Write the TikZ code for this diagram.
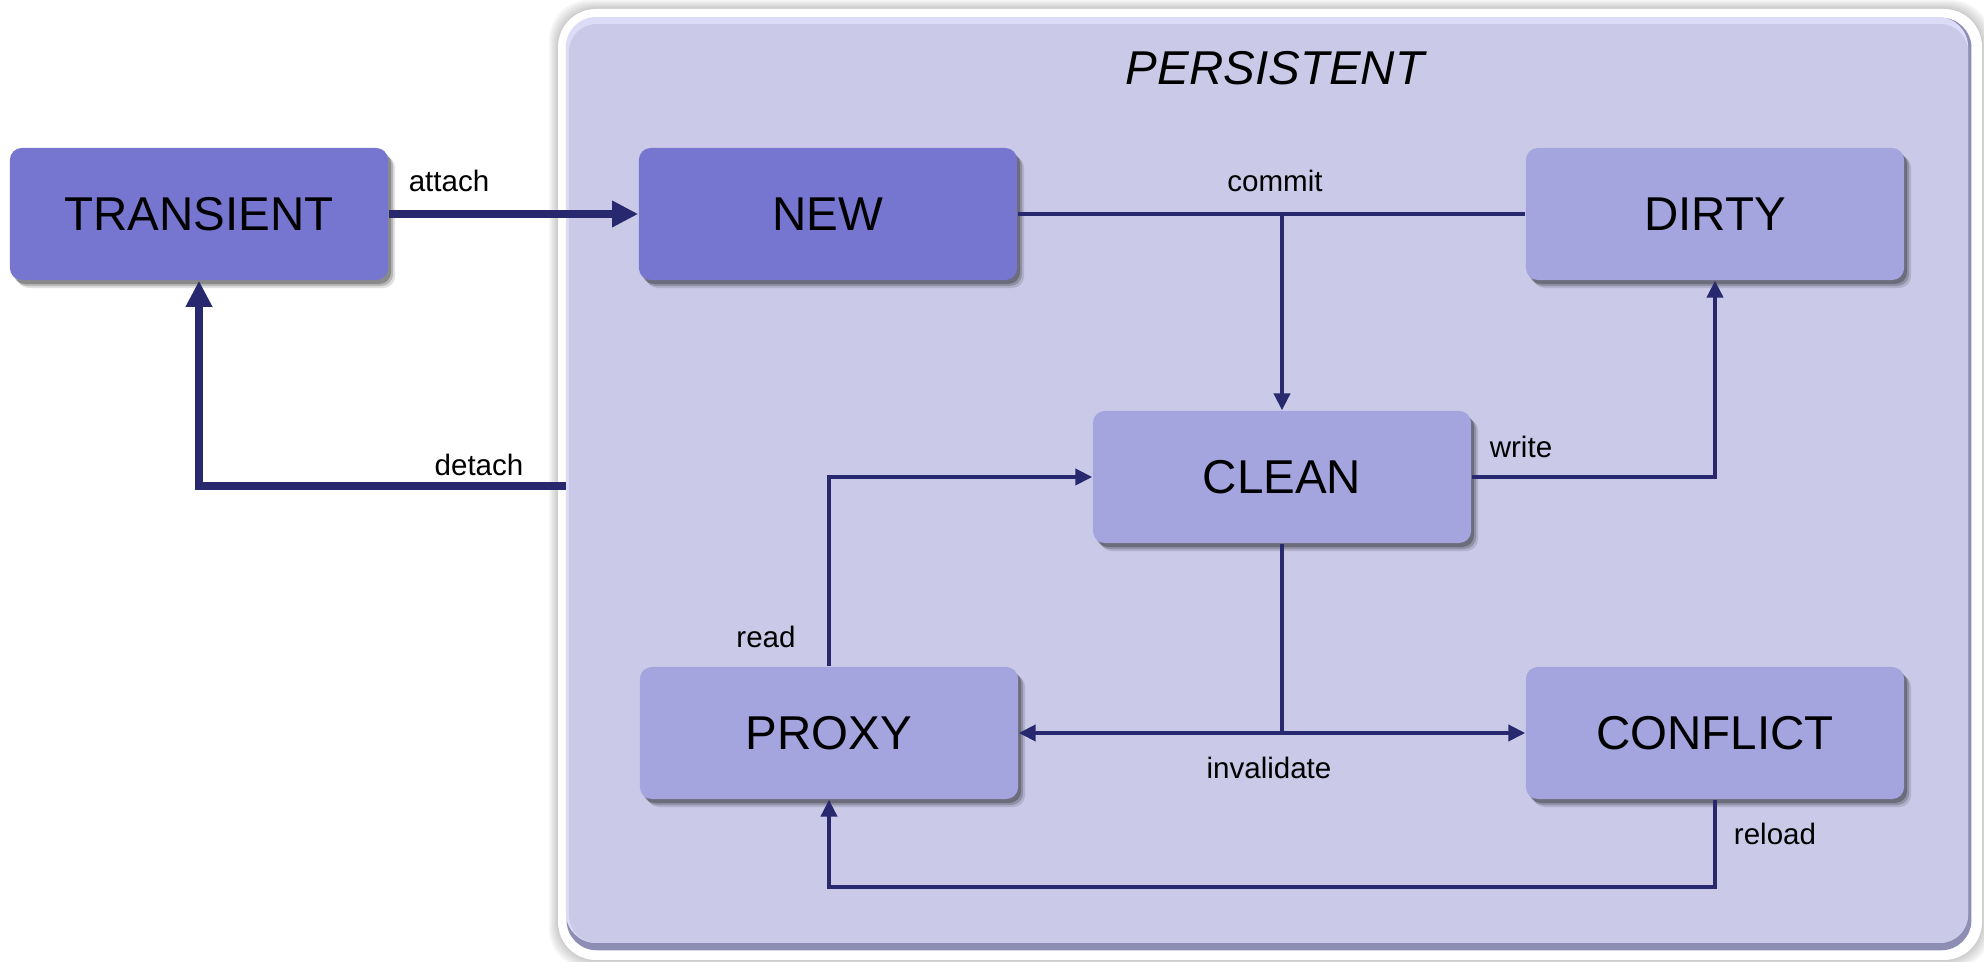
\documentclass[tikz,border=0pt]{standalone}
\usepackage{fontspec}
\setmainfont{Liberation Sans}
\usetikzlibrary{arrows.meta,shadows,calc}

\definecolor{panelfill}{HTML}{CACAE8}
\definecolor{panellight}{HTML}{DCDCF7}
\definecolor{paneldark}{HTML}{8E8EB4}
\definecolor{hotfill}{HTML}{7676D0}
\definecolor{coolfill}{HTML}{A4A4DF}
\definecolor{wire}{HTML}{28286F}

\tikzset{
  state/.style={rectangle, rounded corners=0.12cm, minimum width=3.78cm,
    minimum height=1.32cm, inner sep=0pt, text=black,
    font=\fontsize{13.5}{16}\selectfont,
    drop shadow={shadow xshift=0.07cm, shadow yshift=-0.08cm,
      opacity=0.12, fill=black},
    drop shadow={shadow xshift=0.05cm, shadow yshift=-0.06cm,
      opacity=0.18, fill=black},
    drop shadow={shadow xshift=0.03cm, shadow yshift=-0.04cm,
      opacity=0.25, fill=black}},
  hotstate/.style={state, fill=hotfill},
  coolstate/.style={state, fill=coolfill},
  plainwire/.style={draw=wire, line width=1pt},
  flow/.style={plainwire, -{Triangle[length=4.8pt, width=4.6pt]}},
  bigflow/.style={draw=wire, line width=2.3pt,
    -{Triangle[length=7.4pt, width=7.1pt]}},
  tag/.style={inner sep=0pt, text=black, font=\fontsize{8.4}{10}\selectfont},
}

\begin{document}
\begin{tikzpicture}[x=0.01cm, y=-0.01cm]
  \useasboundingbox (0,0) rectangle (1984,962);

  % soft glow around the white frame
  \foreach \g in {1,...,6}
    \fill[black, opacity=0.035, rounded corners=0.40cm]
      (558-\g*1.5, 9-\g*1.5) rectangle (1982+\g*1.5, 960+\g*1.5);
  % white frame
  \fill[white, rounded corners=0.38cm] (558,9) rectangle (1982,960);

  % bevelled panel for the persistent states
  \node[rectangle, rounded corners=0.30cm, fill=paneldark, inner sep=0pt,
        minimum width=14.04cm, minimum height=9.32cm] (persist) at (1269,484) {};
  \fill[panellight, rounded corners=0.30cm]
    (persist.north west) rectangle ($(persist.south east)+(-4,-8)$);
  \fill[panelfill, rounded corners=0.28cm]
    ($(persist.north west)+(3,7)$) rectangle ($(persist.south east)+(-4,-8)$);

  \node[font=\fontsize{13.5}{16}\selectfont\itshape, inner sep=0pt] (title)
    at (1275,68) {PERSISTENT};

  % states
  \node[hotstate]  (TRANSIENT) at (199,214) {TRANSIENT};
  \node[hotstate]  (NEW)       at (828,214) {NEW};
  \node[coolstate] (DIRTY)     at (1715,214) {DIRTY};
  \node[coolstate] (CLEAN)     at (1282,477) {CLEAN};
  \node[coolstate] (PROXY)     at (829,733) {PROXY};
  \node[coolstate] (CONFLICT)  at (1715,733) {CONFLICT};

  % helper points
  \coordinate (detachY) at (0,486);
  \coordinate (detachStart) at (persist.west |- detachY);
  \coordinate (reloadY) at (0,887);

  % attach / detach
  \draw[bigflow] (TRANSIENT.east) -- (NEW.west);
  \draw[bigflow] (detachStart) -| (TRANSIENT.south);

  % commit
  \draw[plainwire] (NEW.east) -- (DIRTY.west);
  \coordinate (commitJ) at (NEW.east -| CLEAN.north);
  \draw[flow] (commitJ) -- (CLEAN.north);

  % write
  \draw[flow] (CLEAN.east) -| (DIRTY.south);

  % read
  \draw[flow] (PROXY.north) |- (CLEAN.west);

  % invalidate
  \coordinate (invJ) at (CLEAN.south |- PROXY.east);
  \draw[plainwire] (CLEAN.south) -- (invJ);
  \draw[flow] (invJ) -- (PROXY.east);
  \draw[flow] (invJ) -- (CONFLICT.west);

  % reload
  \coordinate (reloadC) at (CONFLICT.south |- reloadY);
  \draw[flow] (CONFLICT.south) -- (reloadC) -| (PROXY.south);

  % transition labels
  \node[tag] (lattach)     at (449,181) {attach};
  \node[tag] (ldetach)     at (479,465) {detach};
  \node[tag] (lcommit)     at (1275,181) {commit};
  \node[tag] (lwrite)      at (1521,447) {write};
  \node[tag] (lread)       at (766,637) {read};
  \node[tag] (linvalidate) at (1269,768) {invalidate};
  \node[tag] (lreload)     at (1775,834) {reload};
\end{tikzpicture}
\end{document}
